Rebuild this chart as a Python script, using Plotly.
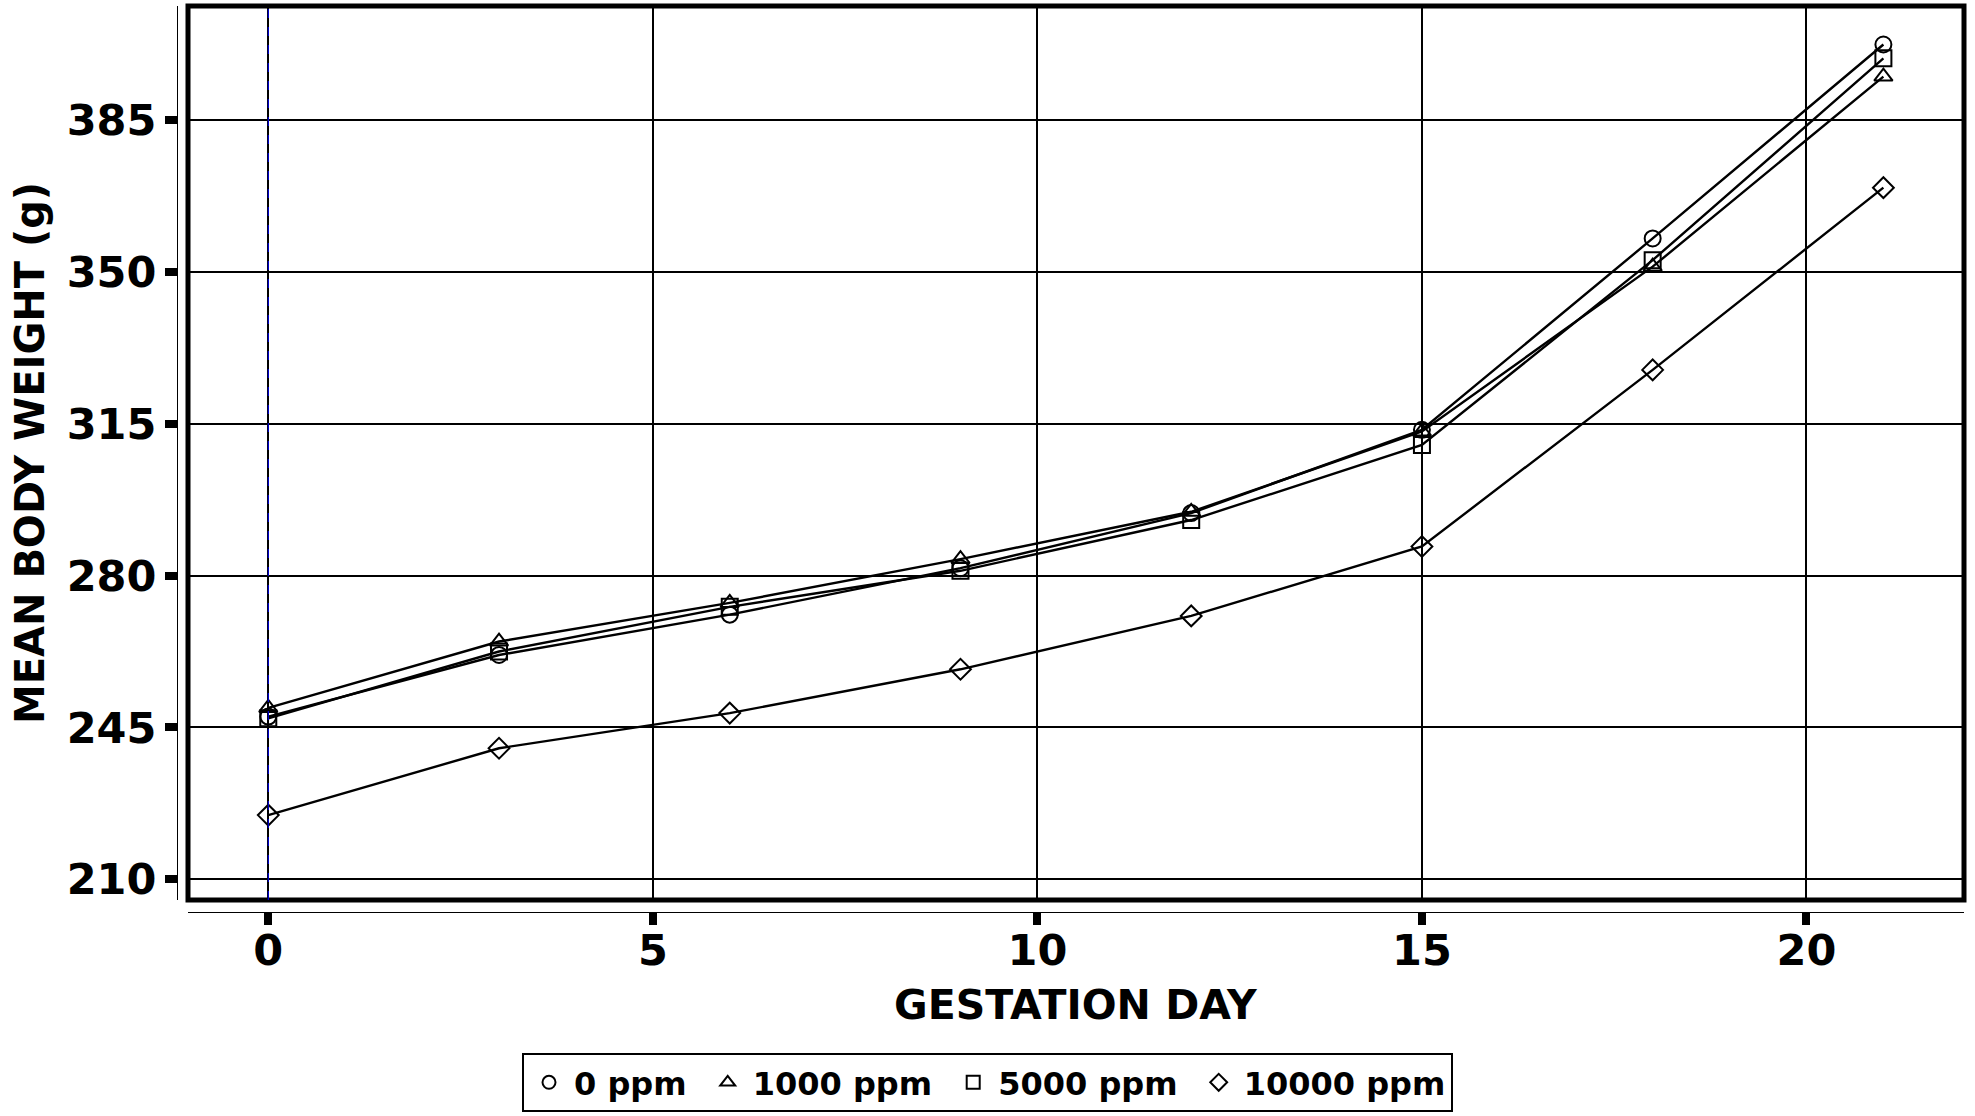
import plotly.graph_objects as go

days = [0, 3, 6, 9, 12, 15, 18, 21]
series_names = ["0 ppm", "1000 ppm", "5000 ppm", "10000 ppm"]
w_0 = [247.5, 261.7, 271.0, 281.7, 294.4, 313.6, 357.7, 402.4]
w_1000 = [249.5, 264.8, 273.7, 283.8, 294.7, 313.2, 351.2, 395.0]
w_5000 = [247.1, 262.5, 272.8, 281.1, 292.8, 310.1, 352.7, 399.2]
w_10000 = [224.8, 240.2, 248.3, 258.4, 270.7, 286.7, 327.4, 369.4]
symbols = ["circle-open", "triangle-up-open", "square-open", "diamond-open"]
x_ticks = [0, 5, 10, 15, 20]
y_ticks = [210, 245, 280, 315, 350, 385]
x_title = "GESTATION DAY"
y_title = "MEAN BODY WEIGHT (g)"

FONT = "DejaVu Sans"
NB = "\u00a0"
fig = go.Figure()
for name, vals, sym in zip(series_names, [w_0, w_1000, w_5000, w_10000], symbols):
    fig.add_trace(go.Scatter(
        x=days, y=vals, mode="lines+markers", name=name, showlegend=False,
        line=dict(color="black", width=2.4),
        marker=dict(symbol=sym, size=16, color="black", line=dict(width=2, color="black")),
    ))
n = len(series_names)
for i, (name, sym) in enumerate(zip(series_names, symbols)):
    label = name + (NB if i < n - 1 else "")
    fig.add_trace(go.Scatter(
        x=[None], y=[None], mode="markers", name=label, showlegend=True,
        marker=dict(symbol=sym, size=13, color="black", line=dict(width=2, color="black")),
    ))

W, H = 1975, 1116
ml, mr, mt, mb = 177, 11, 6, 204
pw = W - ml - mr
ph = H - mt - mb

fig.update_layout(
    width=W, height=H,
    margin=dict(l=ml, r=mr, t=mt, b=mb, autoexpand=False),
    paper_bgcolor="white", plot_bgcolor="white",
    font=dict(family=FONT, color="black"),
    showlegend=True,
    legend=dict(
        orientation="h", x=0.5, xanchor="center", xref="container",
        y=-(1112 - 912) / ph, yanchor="bottom",
        font=dict(family=FONT, size=32, color="black", weight="bold"),
        bordercolor="black", borderwidth=2, bgcolor="white",
        itemwidth=40,
    ),
    xaxis=dict(
        domain=[(188 - 177) / pw, 1], anchor="free", position=0, automargin=False,
        range=[-1.044, 22.048], tickvals=x_ticks, ticktext=[str(v) for v in x_ticks],
        showgrid=True, gridcolor="black", gridwidth=2, zeroline=False,
        showline=True, linecolor="black", linewidth=1,
        ticks="outside", ticklen=12, tickwidth=8, tickcolor="black",
        ticklabelstandoff=-12,
        tickfont=dict(family=FONT, size=43, color="black", weight="bold"),
    ),
    yaxis=dict(
        domain=[(912 - 900) / ph, 1], anchor="free", position=0, automargin=False,
        range=[205.23, 411.27], tickvals=y_ticks, ticktext=[str(v) for v in y_ticks],
        showgrid=True, gridcolor="black", gridwidth=2, zeroline=False,
        showline=True, linecolor="black", linewidth=1,
        ticks="outside", ticklen=12, tickwidth=8, tickcolor="black",
        tickfont=dict(family=FONT, size=43, color="black", weight="bold"),
        title=dict(text=y_title, font=dict(family=FONT, size=40, color="black", weight="bold"), standoff=8),
    ),
    annotations=[
        dict(text=x_title, xref="x domain", x=0.5, xanchor="center",
             yref="paper", y=-(1005 - 912) / ph, yanchor="middle", showarrow=False,
             font=dict(family=FONT, size=41, color="black", weight="bold")),
    ],
    shapes=[
        dict(type="rect", xref="x domain", yref="y domain", x0=0, x1=1, y0=0, y1=1,
             line=dict(color="black", width=5), fillcolor="rgba(0,0,0,0)", layer="above"),
        dict(type="line", xref="x", yref="y domain", x0=0, x1=0, y0=0, y1=1,
             line=dict(color="blue", width=1, dash="dash"), layer="above"),
    ],
)

fig.write_html(
    "out.html",
    config={"displayModeBar": False},
    post_script="document.body.style.margin='0';document.body.style.overflow='hidden';",
)
